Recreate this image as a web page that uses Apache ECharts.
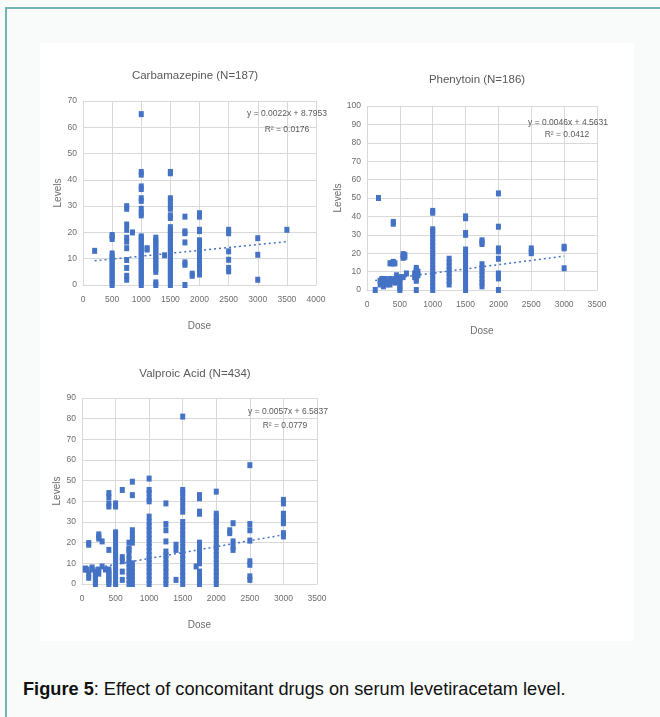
<!DOCTYPE html>
<html>
<head>
<meta charset="utf-8">
<script src="https://cdn.jsdelivr.net/npm/echarts@6/dist/echarts.min.js"></script>
<style>
  html, body { margin: 0; padding: 0; }
  body { width: 660px; height: 717px; background: #f9fbfb; position: relative; overflow: hidden; }
  #topline { position: absolute; left: 5px; top: 7px; width: 655px; height: 2px; background: #72b5b2; }
  #leftline { position: absolute; left: 5px; top: 7px; width: 2px; height: 710px; background: #72b5b2; }
  #panel { position: absolute; left: 40px; top: 43px; width: 594px; height: 598px; background: #ffffff; }
  #caption { position: absolute; left: 23px; top: 679px; font-family: "Liberation Sans", Arial, sans-serif; font-size: 18.2px; color: #111; white-space: nowrap; }
  #chart { position: absolute; left: 0; top: 0; width: 660px; height: 717px; }
</style>
</head>
<body>
<div id="topline"></div>
<div id="leftline"></div>
<div id="panel"></div>
<div id="caption"><b>Figure 5</b>: Effect of concomitant drugs on serum levetiracetam level.</div>
<div id="chart"></div>
<script>
// ---------- Carbamazepine (N=187) ----------
const carbamazepineDose = [200, 500, 750, 850, 1000, 1100, 1250, 1400, 1500, 1750, 1875, 2000, 2500, 3000, 3500];
const carbamazepineLevels = [
  [13],
  [0, 1, 2, 3, 4, 5, 6, 7, 8, 9, 10, 11, 12, 17.5, 18.5, 19],
  [2, 3.5, 6.5, 9.5, 14, 16.5, 18, 21, 23, 29, 30],
  [20],
  [0, 1, 2, 3, 4, 5, 6, 7, 8, 9, 10, 11, 12, 13, 14, 15, 16, 17, 18, 18.5, 26.5, 27.5, 29, 32, 33, 36.5, 37.5, 42, 43, 65],
  [13.5, 14],
  [0, 1, 5, 6, 7, 8, 9, 10, 11, 12, 13, 14, 15, 16, 17, 18],
  [11.3],
  [0, 1, 2, 3, 4, 5, 6, 7, 8, 9, 10, 11, 12, 13, 14, 15, 16, 17, 18, 19, 20, 21, 22, 25.5, 26.5, 29, 30, 32, 33, 42.5, 43],
  [0, 7.7, 8.6, 16.2, 19.7, 20.4, 26],
  [3.5, 4.3],
  [4, 5, 6, 7, 8, 9, 10, 11, 12, 13, 14, 15, 16, 17, 20.5, 21, 26, 27.3],
  [5.2, 6.5, 9.6, 12.8, 19.7, 21],
  [2, 11.5, 17.8],
  [21]
];
const carbamazepineTrend = [[200, 9.2], [3500, 16.5]];
const carbamazepineXTicks = [0, 500, 1000, 1500, 2000, 2500, 3000, 3500, 4000];
const carbamazepineYTicks = [0, 10, 20, 30, 40, 50, 60, 70];

// ---------- Phenytoin (N=186) ----------
const phenytoinDose = [125, 175, 200, 225, 250, 275, 300, 325, 350, 375, 400, 425, 450, 500, 550, 575, 600, 725, 750, 775, 1000, 1250, 1500, 1750, 2000, 2500, 3000];
const phenytoinLevels = [
  [0],
  [50],
  [3, 5],
  [4, 6],
  [2, 5],
  [4, 6],
  [3, 5],
  [4],
  [3, 6, 14.5],
  [5, 14.5],
  [14.5, 15.3, 36, 37],
  [4, 6, 14.5],
  [5, 8],
  [0, 1, 2, 4, 5, 6, 7],
  [7, 17.5, 18.5, 19.5],
  [18, 19],
  [9],
  [7, 9],
  [0, 5, 6, 7, 8, 9, 10, 11, 12],
  [8, 10],
  [0, 2, 4, 6, 8, 10, 12, 14, 16, 18, 20, 22, 24, 26, 28, 30, 32, 33, 42, 43],
  [3, 5, 7, 9, 11, 13, 15, 17],
  [0, 2, 4, 6, 8, 10, 12, 14, 16, 18, 20, 22, 30, 31, 39, 40],
  [2, 4, 6, 8, 10, 12, 14, 25, 26, 27],
  [0, 6.3, 8, 9, 17, 21, 22.6, 34.4, 52.5],
  [20, 21, 22.6],
  [11.8, 22.6, 23.5]
];
const phenytoinTrend = [[125, 5.1], [3000, 18.4]];
const phenytoinXTicks = [0, 500, 1000, 1500, 2000, 2500, 3000, 3500];
const phenytoinYTicks = [0, 10, 20, 30, 40, 50, 60, 70, 80, 90, 100];

// ---------- Valproic Acid (N=434) ----------
const valproicDose = [50, 75, 100, 150, 200, 250, 300, 350, 400, 500, 600, 700, 750, 1000, 1250, 1400, 1500, 1700, 1750, 2000, 2200, 2250, 2500, 3000];
const valproicLevels = [
  [7, 7.5],
  [7],
  [3, 5, 19, 19.8],
  [7, 8],
  [0, 1, 2, 3, 4, 5, 6],
  [5, 7, 22, 23, 24],
  [8.5, 20.6],
  [7],
  [0, 1, 2, 3, 4, 5, 6, 7, 16.5, 37.5, 39, 42, 44],
  [0, 2, 4, 6, 8, 10, 12, 14, 16, 18, 20, 22, 24, 25, 37.5, 39],
  [2, 6, 11, 13, 45.5],
  [0, 2, 4, 6, 8, 10, 12, 14, 16.5, 17, 20],
  [0, 2, 4, 6, 8, 10, 20, 22, 24, 26, 43, 49.5],
  [0, 2, 4, 6, 8, 10, 12, 14, 16, 18, 20, 22, 24, 26, 28, 30, 32.6, 40, 41.5, 44, 45.5, 51],
  [0, 2, 3.7, 6, 8, 10, 12, 14, 15.7, 20.6, 26, 29, 39],
  [2, 16.5, 19],
  [0, 2, 4, 6, 8, 10, 12, 14, 16, 18, 20, 22, 24, 26, 28, 30, 35, 37.5, 40, 42, 44, 45.5, 81],
  [8.5],
  [0, 2, 4, 6, 10, 12, 14, 16, 18, 20, 34, 35, 41.5, 43],
  [0, 2, 4, 6, 8, 10, 12, 14, 16, 18, 20, 22, 24, 26, 28, 30, 31, 32.6, 34, 44.7],
  [24.6, 26],
  [16.5, 18, 20.6, 29.4],
  [2, 3.7, 9.3, 11, 21, 26, 29, 57.5],
  [23, 24.6, 29.4, 30, 32, 34, 39, 40.7]
];
const valproicTrend = [[50, 6.9], [3000, 23.8]];
const valproicXTicks = [0, 500, 1000, 1500, 2000, 2500, 3000, 3500];
const valproicYTicks = [0, 10, 20, 30, 40, 50, 60, 70, 80, 90];

// ---------- build ----------
function toPoints(doses, levels) {
  const pts = [];
  doses.forEach((d, i) => levels[i].forEach(v => pts.push([d, v])));
  return pts;
}
const FONT = '"Liberation Sans", Arial, sans-serif';
const LABEL = '#6d6d6d';
const GRID = '#d9d9d9';
const BLUE = '#4472C4';

function xAx(gi, ticks) {
  return {
    gridIndex: gi, type: 'value', min: ticks[0], max: ticks[ticks.length - 1], interval: ticks[1] - ticks[0],
    name: 'Dose', nameLocation: 'middle', nameGap: 36,
    nameTextStyle: { color: LABEL, fontSize: 10, fontFamily: FONT },
    axisLine: { show: true, lineStyle: { color: GRID } }, axisTick: { show: false },
    axisLabel: { color: LABEL, fontSize: 8.5, fontFamily: FONT, margin: 10, formatter: v => String(v) },
    splitLine: { show: true, lineStyle: { color: GRID, width: 1 } }
  };
}
function yAx(gi, ticks) {
  return {
    gridIndex: gi, type: 'value', min: ticks[0], max: ticks[ticks.length - 1], interval: ticks[1] - ticks[0],
    name: 'Levels', nameLocation: 'middle', nameGap: 20,
    nameTextStyle: { color: LABEL, fontSize: 10, fontFamily: FONT },
    axisLine: { show: false }, axisTick: { show: false },
    axisLabel: { color: LABEL, fontSize: 8.5, fontFamily: FONT, margin: 6, formatter: v => String(v) },
    splitLine: { show: true, lineStyle: { color: GRID, width: 1 } }
  };
}
function scatter(gi, pts) {
  return { type: 'scatter', xAxisIndex: gi, yAxisIndex: gi, data: pts, symbol: 'rect', symbolSize: [5, 6],
    itemStyle: { color: BLUE, opacity: 1, borderWidth: 0 }, silent: true, animation: false };
}
function trend(gi, pts) {
  return { type: 'line', xAxisIndex: gi, yAxisIndex: gi, data: pts, symbol: 'none',
    lineStyle: { color: BLUE, width: 1.5, type: [2, 3] }, silent: true, animation: false, z: 1 };
}
function eqText(x, y, t) {
  return { type: 'text', x: x, y: y, z: 100, style: { text: t, fill: '#595959', font: '8.5px ' + FONT, textAlign: 'center', textVerticalAlign: 'middle' } };
}

const chart = echarts.init(document.getElementById('chart'), null, { renderer: 'canvas' });
chart.setOption({
  backgroundColor: 'transparent',
  animation: false,
  title: [
    { text: 'Carbamazepine (N=187)', left: 190, top: 65, textAlign: 'center', textStyle: { color: '#595959', fontSize: 11.5, fontWeight: 'normal', fontFamily: FONT } },
    { text: 'Phenytoin (N=186)', left: 472, top: 69, textAlign: 'center', textStyle: { color: '#595959', fontSize: 11.5, fontWeight: 'normal', fontFamily: FONT } },
    { text: 'Valproic Acid (N=434)', left: 190, top: 363, textAlign: 'center', textStyle: { color: '#595959', fontSize: 11.5, fontWeight: 'normal', fontFamily: FONT } }
  ],
  grid: [
    { left: 83, top: 101, width: 233, height: 184 },
    { left: 367, top: 106, width: 230, height: 184 },
    { left: 82, top: 398, width: 235, height: 186 }
  ],
  xAxis: [xAx(0, carbamazepineXTicks), xAx(1, phenytoinXTicks), xAx(2, valproicXTicks)],
  yAxis: [yAx(0, carbamazepineYTicks), yAx(1, phenytoinYTicks), yAx(2, valproicYTicks)],
  series: [
    scatter(0, toPoints(carbamazepineDose, carbamazepineLevels)), trend(0, carbamazepineTrend),
    scatter(1, toPoints(phenytoinDose, phenytoinLevels)), trend(1, phenytoinTrend),
    scatter(2, toPoints(valproicDose, valproicLevels)), trend(2, valproicTrend)
  ],
  graphic: [
    eqText(287, 114, 'y = 0.0022x + 8.7953'), eqText(287, 130, 'R² = 0.0176'),
    eqText(568, 123, 'y = 0.0046x + 4.5631'), eqText(567, 135, 'R² = 0.0412'),
    eqText(288, 412, 'y = 0.0057x + 6.5837'), eqText(285, 426, 'R² = 0.0779')
  ]
});
</script>
</body>
</html>
